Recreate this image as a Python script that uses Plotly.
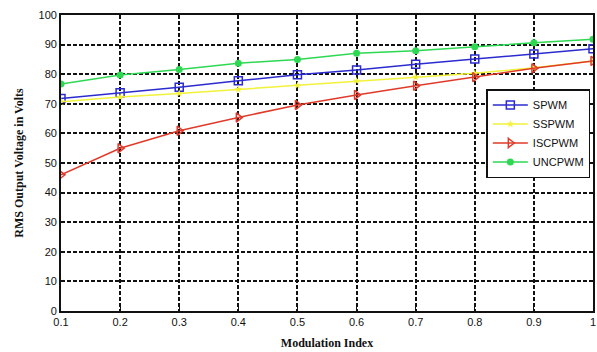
import plotly.graph_objects as go

mod_index = [0.1, 0.2, 0.3, 0.4, 0.5, 0.6, 0.7, 0.8, 0.9, 1.0]
spwm = [71.8, 73.7, 75.6, 77.8, 79.8, 81.4, 83.4, 85.1, 86.8, 88.6]
sspwm = [70.7, 72.3, 73.5, 74.9, 76.2, 77.7, 79.0, 80.3, 82.2, 84.5]
iscpwm = [46.0, 55.0, 60.9, 65.4, 69.6, 73.0, 76.1, 79.0, 82.0, 84.5]
uncpwm = [76.7, 79.7, 81.6, 83.7, 85.0, 87.1, 87.9, 89.3, 90.6, 91.8]

y_ticks = [0, 10, 20, 30, 40, 50, 60, 70, 80, 90, 100]
x_ticks = [0.1, 0.2, 0.3, 0.4, 0.5, 0.6, 0.7, 0.8, 0.9, 1.0]
x_labels = ["0.1", "0.2", "0.3", "0.4", "0.5", "0.6", "0.7", "0.8", "0.9", "1"]

fig = go.Figure()
fig.add_trace(go.Scatter(x=mod_index, y=spwm, name="SPWM", mode="lines+markers",
                         line=dict(color="#2b2bd0", width=1.5),
                         marker=dict(symbol="square-open", size=8, color="#2b2bd0", line=dict(width=1.5))))
fig.add_trace(go.Scatter(x=mod_index, y=sspwm, name="SSPWM", mode="lines+markers",
                         line=dict(color="#f2f23a", width=1.5),
                         marker=dict(symbol="star", size=6, color="#f2f23a")))
fig.add_trace(go.Scatter(x=mod_index, y=iscpwm, name="ISCPWM", mode="lines+markers",
                         line=dict(color="#e03a2a", width=1.5),
                         marker=dict(symbol="triangle-right-open", size=8, color="#e03a2a", line=dict(width=1.5))))
fig.add_trace(go.Scatter(x=mod_index, y=uncpwm, name="UNCPWM", mode="lines+markers",
                         line=dict(color="#2ed852", width=1.5),
                         marker=dict(symbol="circle", size=7, color="#2ed852")))

axis_common = dict(showline=True, linecolor="#111", linewidth=1.8, mirror=True,
                   showgrid=True, gridcolor="#111", griddash="4px,2px", gridwidth=1.6,
                   ticks="inside", ticklen=4, tickcolor="#111", zeroline=False,
                   tickfont=dict(family="Arial", size=11, color="#111"))

fig.update_layout(
    width=597, height=352,
    margin=dict(l=61, r=2, t=15, b=41),
    paper_bgcolor="white", plot_bgcolor="white",
    showlegend=True,
    legend=dict(x=0.995, y=0.75, xanchor="right", yanchor="top",
                bordercolor="#111", borderwidth=1.5, bgcolor="white",
                font=dict(family="Arial", size=11, color="#111"),
                tracegroupgap=0, itemwidth=35),
    xaxis=dict(range=[0.1, 1.0], tickvals=x_ticks, ticktext=x_labels,
               title=dict(text="<b>Modulation Index</b>",
                          font=dict(family="Times New Roman, Liberation Serif", size=12, color="#111"),
                          standoff=12),
               **axis_common),
    yaxis=dict(range=[0, 100], tickvals=y_ticks,
               title=dict(text="<b>RMS Output Voltage in Volts</b>",
                          font=dict(family="Times New Roman, Liberation Serif", size=12, color="#111"),
                          standoff=12),
               **axis_common),
)

fig.write_html("out.html")
